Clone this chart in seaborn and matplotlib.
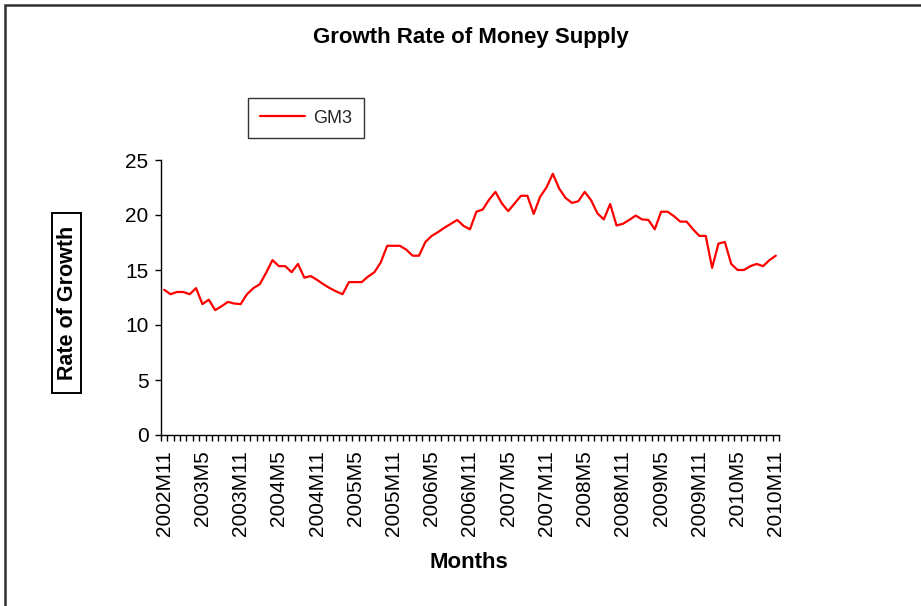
import matplotlib
matplotlib.use("Agg")
import matplotlib.pyplot as plt
from matplotlib.patches import Rectangle
from matplotlib.ticker import FixedLocator
import seaborn as sns
import pandas as pd

# ---- data -------------------------------------------------------------
years_months = [(2002, 11), (2002, 12)] + [(y, m) for y in range(2003, 2010) for m in range(1, 13)] \
    + [(2010, m) for m in range(1, 12)]
months = [f"{y}M{m}" for y, m in years_months]

gm3 = [13.2, 12.8, 13.0, 13.0, 12.8, 13.35, 11.9, 12.3, 11.35, 11.7,
       12.1, 11.95, 11.9, 12.8, 13.35, 13.7, 14.75, 15.9, 15.35, 15.35,
       14.8, 15.55, 14.3, 14.45, 14.1, 13.7, 13.35, 13.05, 12.8, 13.9,
       13.9, 13.9, 14.4, 14.8, 15.7, 17.2, 17.2, 17.2, 16.85, 16.3,
       16.3, 17.55, 18.1, 18.45, 18.85, 19.2, 19.55, 19.0, 18.7, 20.3,
       20.5, 21.4, 22.1, 21.05, 20.35, 21.05, 21.75, 21.75, 20.1, 21.65,
       22.5, 23.75, 22.4, 21.55, 21.1, 21.25, 22.1, 21.35, 20.15, 19.6,
       21.0, 19.05, 19.2, 19.55, 19.95, 19.6, 19.55, 18.7, 20.3, 20.3,
       19.9, 19.4, 19.4, 18.7, 18.1, 18.1, 15.2, 17.4, 17.55, 15.55,
       15.0, 15.0, 15.35, 15.55, 15.35, 15.9, 16.3]

yticks = [0, 5, 10, 15, 20, 25]
label_every = 6

df = pd.DataFrame({"idx": range(len(months)), "month": months, "GM3": gm3})

# ---- figure -----------------------------------------------------------
sns.set_theme(style="white")
plt.rcParams["font.family"] = ["Liberation Sans", "DejaVu Sans"]

W, H = 921, 606
fig = plt.figure(figsize=(W / 100, H / 100), dpi=100)
fig.patch.set_facecolor("white")

ax = fig.add_axes([161 / W, 1 - 435 / H, (779 - 161) / W, (435 - 160) / H])
ax.set_facecolor("white")

sns.lineplot(data=df, x="idx", y="GM3", ax=ax, color="#ff0000", linewidth=1.6,
             label="GM3", legend=False)

n = len(months)
ax.set_xlim(-0.5, n - 0.5)
ax.set_ylim(0, 25)
ax.set_yticks(yticks)
ax.set_yticklabels([str(t) for t in yticks])

major = list(range(0, n, label_every))
ax.xaxis.set_major_locator(FixedLocator(major))
ax.set_xticklabels([months[i] for i in major], rotation=90, va="top", ha="center")
ax.xaxis.set_minor_locator(FixedLocator([i - 0.5 for i in range(n + 1)]))

ax.tick_params(axis="x", which="major", length=0, pad=11, labelsize=15, colors="black")
ax.tick_params(axis="x", which="minor", length=4.5, width=1.0, direction="out",
               color="black", bottom=True)
ax.tick_params(axis="y", which="major", length=4, width=1.0, direction="out",
               pad=5, labelsize=15, colors="black", left=True)

for s in ["top", "right"]:
    ax.spines[s].set_visible(False)
for s in ["left", "bottom"]:
    ax.spines[s].set_color("black")
    ax.spines[s].set_linewidth(1.0)
ax.set_xlabel("")
ax.set_ylabel("")
ax.grid(False)

# title
fig.text(471 / W, 1 - 38 / H, "Growth Rate of Money Supply", ha="center", va="center",
         fontsize=16, fontweight="bold", color="black")
# x label
fig.text(469 / W, 1 - 562 / H, "Months", ha="center", va="center",
         fontsize=16, fontweight="bold", color="black")
# y label in box
fig.patches.append(Rectangle((52 / W, 1 - 393 / H), (81 - 52) / W, (393 - 213) / H,
                             transform=fig.transFigure, fc="white", ec="black",
                             lw=1.4, zorder=2))
fig.text(67 / W, 1 - 303 / H, "Rate of Growth", ha="center", va="center", rotation=90,
         fontsize=15.5, fontweight="bold", color="black", zorder=3)

# legend
handles, labels = ax.get_lines()[:1], ["GM3"]
leg = fig.legend(handles, labels, loc="upper left",
                 bbox_to_anchor=(248 / W, 1 - 98 / H), bbox_transform=fig.transFigure,
                 frameon=True, fancybox=False, fontsize=13, handlelength=2.5,
                 borderpad=0.65, handletextpad=0.45, borderaxespad=0)
leg.get_frame().set_edgecolor("black")
leg.get_frame().set_linewidth(1.0)

# outer chart border (left & top visible)
fig.patches.append(Rectangle((5 / W, -0.1), 1.2, 1 - 5 / H + 0.1,
                             transform=fig.transFigure, fill=False,
                             ec="#303030", lw=1.8))

fig.savefig("out.png", dpi=100, facecolor="white")
